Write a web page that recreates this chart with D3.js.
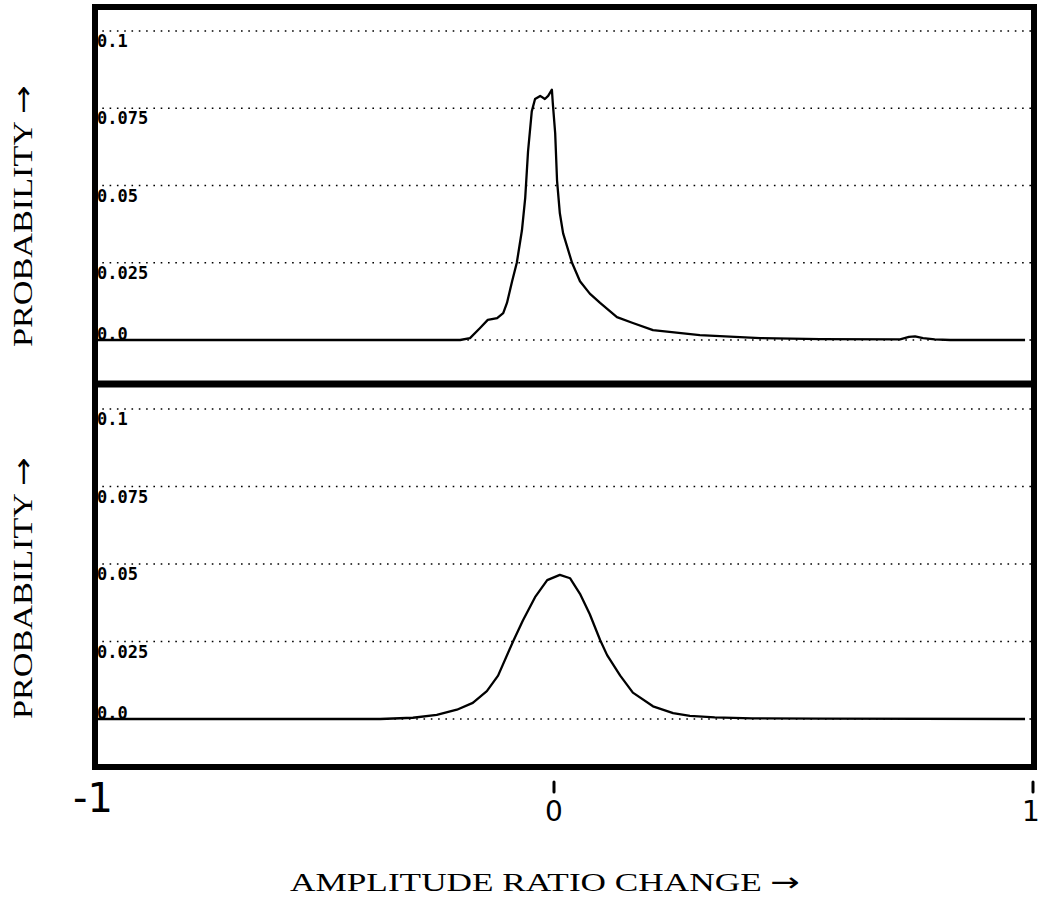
<!DOCTYPE html>
<html>
<head>
<meta charset="utf-8">
<script src="https://cdn.jsdelivr.net/npm/d3@7"></script>
<style>
  html, body { margin: 0; padding: 0; background: #fff; }
  svg { display: block; }
</style>
</head>
<body>
<svg id="chart" width="1045" height="898"></svg>
<script>
// ---- data ----
const yTicks = [0, 0.025, 0.05, 0.075, 0.1];
const yTickLabels = ["0.0", "0.025", "0.05", "0.075", "0.1"];
const xTicks = [-1, 0, 1];
const xTickLabels = ["-1", "0", "1"];
const yTitle = "PROBABILITY";
const xTitle = "AMPLITUDE RATIO CHANGE";
const arrow = "\u2192";

// top panel: sharply peaked distribution
const topX = [-1, -0.6, -0.3, -0.224, -0.203, -0.182, -0.165, -0.145, -0.132, -0.124, -0.113, -0.103,
  -0.092, -0.085, -0.079, -0.071, -0.064, -0.053, -0.043, -0.036, -0.028, -0.026, -0.021, -0.017,
  -0.011, -0.004, 0.015, 0.032, 0.053, 0.075, 0.111, 0.145, 0.188, 0.288, 0.417, 0.545, 0.716,
  0.735, 0.748, 0.765, 0.790, 0.823, 0.983];
const topY = [0, 0, 0, 0, 0.0006, 0.0038, 0.0065, 0.0071, 0.0087, 0.012, 0.019, 0.025,
  0.0355, 0.046, 0.061, 0.074, 0.078, 0.079, 0.078, 0.079, 0.081, 0.0765, 0.067, 0.0516,
  0.041, 0.0345, 0.025, 0.019, 0.015, 0.012, 0.0074, 0.0055, 0.0032, 0.0016, 0.0006, 0.0003, 0.0002,
  0.0010, 0.0012, 0.0006, 0.0002, 0.0, 0.0];

// bottom panel: broad bell-shaped distribution
const botX = [-1, -0.6, -0.45, -0.395, -0.325, -0.274, -0.231, -0.197, -0.167, -0.143, -0.111, -0.090,
  -0.064, -0.038, -0.011, 0.011, 0.032, 0.053, 0.075, 0.090, 0.118, 0.145, 0.188, 0.231, 0.267,
  0.32, 0.40, 0.55, 0.983];
const botY = [0, 0, 0, 0, 0.0004, 0.0013, 0.003, 0.0052, 0.009, 0.014, 0.025, 0.0318,
  0.0393, 0.0448, 0.0465, 0.0454, 0.0404, 0.0338, 0.0255, 0.0206, 0.014, 0.0085, 0.0041, 0.0019, 0.001,
  0.0005, 0.0002, 0.0001, 0];

// ---- layout ----
const svg = d3.select("#chart");
const frame = { left: 95, right: 1034, top: 7, mid: 384, bottom: 767 };

const x = d3.scaleLinear().domain([-1, 1]).range([97, 1033]);
const yTop = d3.scaleLinear().domain([0, 0.1]).range([340, 31]);
const yBot = d3.scaleLinear().domain([0, 0.1]).range([719, 409]);

const monoFont = "'DejaVu Sans Mono', 'Liberation Mono', monospace";
const serifFont = "'Liberation Serif', 'DejaVu Serif', serif";
const arrowFont = "'DejaVu Sans', sans-serif";

function titleText(sel, label) {
  sel.append("tspan").text(label + " ");
  sel.append("tspan").attr("font-family", arrowFont).text(arrow);
}

function drawPanel(yScale, xs, ys, titleCenter) {
  const g = svg.append("g");
  // dotted gridlines
  g.selectAll("line.grid").data(yTicks).join("line")
    .attr("class", "grid")
    .attr("x1", frame.left).attr("x2", frame.right)
    .attr("y1", d => yScale(d)).attr("y2", d => yScale(d))
    .attr("stroke", "#000").attr("stroke-width", 1.3)
    .attr("stroke-dasharray", "1.6,5.7");
  // tick labels inside the frame
  g.selectAll("text.tick").data(yTicks).join("text")
    .attr("class", "tick")
    .attr("x", 97)
    .attr("y", d => d === 0 ? yScale(d) : yScale(d) + 16)
    .attr("font-family", monoFont)
    .attr("font-size", 17)
    .attr("font-weight", "bold")
    .attr("fill", "#000")
    .text((d, i) => yTickLabels[i]);
  // curve
  const pts = xs.map((v, i) => [v, ys[i]]);
  g.append("path")
    .datum(pts)
    .attr("d", d3.line().x(d => x(d[0])).y(d => yScale(d[1])).curve(d3.curveLinear))
    .attr("fill", "none")
    .attr("stroke", "#000")
    .attr("stroke-width", 2.3)
    .attr("stroke-linejoin", "round");
  // y title
  svg.append("text")
    .attr("transform", `translate(32,${titleCenter}) rotate(-90)`)
    .attr("text-anchor", "middle")
    .attr("font-family", serifFont)
    .attr("font-size", 27)
    .attr("textLength", 262)
    .attr("lengthAdjust", "spacingAndGlyphs")
    .attr("fill", "#000")
    .call(titleText, yTitle);
}

drawPanel(yTop, topX, topY, 216);
drawPanel(yBot, botX, botY, 588);

// frame
svg.append("rect")
  .attr("x", frame.left).attr("y", frame.top)
  .attr("width", frame.right - frame.left)
  .attr("height", frame.bottom - frame.top)
  .attr("fill", "none").attr("stroke", "#000").attr("stroke-width", 6);
svg.append("line")
  .attr("x1", frame.left).attr("x2", frame.right)
  .attr("y1", frame.mid).attr("y2", frame.mid)
  .attr("stroke", "#000").attr("stroke-width", 7);

// hand-written x labels
const xl = svg.append("g");
xl.selectAll("line.xt").data(xTicks.filter(d => d !== -1)).join("line")
  .attr("class", "xt")
  .attr("x1", d => x(d) - (d === 0 ? 11 : 0)).attr("x2", d => x(d) - (d === 0 ? 11 : 0))
  .attr("y1", 782).attr("y2", 792)
  .attr("stroke", "#000").attr("stroke-width", 3).attr("stroke-linecap", "round");
xl.selectAll("text.xl").data(xTicks).join("text")
  .attr("class", "xl")
  .attr("x", d => d === -1 ? x(d) - 4 : (d === 0 ? x(d) - 11 : x(d) - 2))
  .attr("y", d => d === -1 ? 812 : 821)
  .attr("text-anchor", "middle")
  .attr("font-family", "'DejaVu Sans', sans-serif")
  .attr("font-size", d => d === -1 ? 40 : 28)
  .attr("fill", "#000")
  .text((d, i) => xTickLabels[i]);

// x title
svg.append("text")
  .attr("x", 545).attr("y", 891)
  .attr("text-anchor", "middle")
  .attr("font-family", serifFont)
  .attr("font-size", 26)
  .attr("textLength", 510)
  .attr("lengthAdjust", "spacingAndGlyphs")
  .attr("fill", "#000")
  .call(titleText, xTitle);
</script>
</body>
</html>
